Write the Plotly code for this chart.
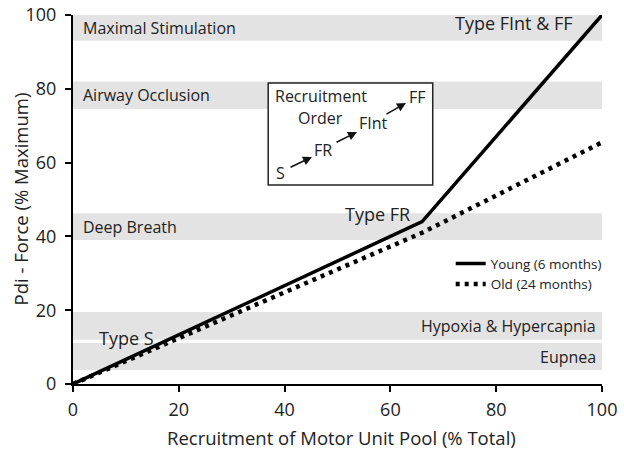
import plotly.graph_objects as go

# Data
young_x = [0, 66, 100]
young_y = [0, 44, 100]
old_x = [0, 66, 100]
old_y = [0, 41, 65.5]

band_names = ["Maximal Stimulation", "Airway Occlusion", "Deep Breath", "Hypoxia & Hypercapnia", "Eupnea"]
band_lo = [93, 74.5, 39, 12, 3.8]
band_hi = [100, 82, 46.3, 19.5, 11.1]
band_label_side = ["left", "left", "left", "right", "right"]

tick_vals = [0, 20, 40, 60, 80, 100]

FONT = "Open Sans"

fig = go.Figure()

fig.add_trace(go.Scatter(x=young_x, y=young_y, mode="lines", name="Young (6 months)",
                         line=dict(color="black", width=3.5), cliponaxis=False))
fig.add_trace(go.Scatter(x=old_x, y=old_y, mode="lines", name="Old (24 months)",
                         line=dict(color="black", width=4.5, dash="4px,5px"), cliponaxis=False))

shapes = []
annotations = []
for name, lo, hi, side in zip(band_names, band_lo, band_hi, band_label_side):
    shapes.append(dict(type="rect", xref="x", yref="y", x0=0, x1=100.5, y0=lo, y1=hi,
                       fillcolor="#e3e3e3", line=dict(width=0), layer="below"))
    ymid = (lo + hi) / 2
    if side == "left":
        annotations.append(dict(x=1.6, y=ymid, xref="x", yref="y", text=name, showarrow=False,
                                xanchor="left", yanchor="middle", font=dict(size=16, family=FONT, color="#222")))
    else:
        annotations.append(dict(x=99.3, y=ymid, xref="x", yref="y", text=name, showarrow=False,
                                xanchor="right", yanchor="middle", font=dict(size=16, family=FONT, color="#222")))

# Inset box
shapes.append(dict(type="rect", xref="x", yref="y", x0=36.9, x1=68.0, y0=53.9, y1=81.6,
                   fillcolor="white", line=dict(color="#222", width=1.5), layer="above"))

def px2x(px):
    return (px - 73) / 5.29

def py2y(py):
    return (384 - py) / 3.69

inset_texts = [("Recruitment", 273, 96, "left"), ("Order", 320, 118, "center"),
               ("S", 280, 173, "center"), ("FR", 323, 150, "center"),
               ("FInt", 373, 123, "center"), ("FF", 417, 97, "center")]
for t, px, py, anc in inset_texts:
    annotations.append(dict(x=px2x(px), y=py2y(py), xref="x", yref="y", text=t, showarrow=False,
                            xanchor=anc, yanchor="middle", font=dict(size=16, family=FONT, color="#222")))

arrows = [((289, 168), (312, 157)), ((335, 143), (357, 132)), ((385, 115), (406, 103))]
for (sx, sy), (ex, ey) in arrows:
    annotations.append(dict(x=px2x(ex), y=py2y(ey), ax=px2x(sx), ay=py2y(sy), xref="x", yref="y",
                            axref="x", ayref="y", text="", showarrow=True, arrowhead=2,
                            arrowsize=1.2, arrowwidth=1.5, arrowcolor="#111"))

type_labels = [("Type S", 4.5, 12.5, "left"), ("Type FR", 51.0, 46.0, "left"),
               ("Type FInt & FF", 94.9, 97.8, "right")]
for t, x, y, anc in type_labels:
    annotations.append(dict(x=x, y=y, xref="x", yref="y", text=t, showarrow=False,
                            xanchor=anc, yanchor="middle", font=dict(size=18, family=FONT, color="#222")))

# axis titles as text annotations
annotations.append(dict(x=-53 / 529, y=0.5, xref="paper", yref="paper", text="Pdi - Force (% Maximum)",
                        showarrow=False, textangle=-90, xanchor="center", yanchor="middle",
                        font=dict(size=18.5, family=FONT, color="#222")))
annotations.append(dict(x=0.5076, y=-0.1463, xref="paper", yref="paper",
                        text="Recruitment of Motor Unit Pool (% Total)",
                        showarrow=False, xanchor="center", yanchor="middle",
                        font=dict(size=18.5, family=FONT, color="#222")))

axis_common = dict(showline=True, linecolor="black", linewidth=2, ticks="outside", ticklen=6,
                   tickwidth=2, tickcolor="black", showgrid=False, zeroline=False, automargin=False,
                   tickvals=tick_vals, tickfont=dict(size=18, family=FONT, color="#222"))

fig.update_layout(
    width=624, height=458,
    margin=dict(l=73, r=22, t=15, b=74, autoexpand=False),
    plot_bgcolor="white", paper_bgcolor="white",
    shapes=shapes, annotations=annotations,
    xaxis=dict(range=[0, 100], ticklabelstandoff=2, **axis_common),
    yaxis=dict(range=[0, 100], ticklabelstandoff=5, **axis_common),
    legend=dict(x=0.714, y=0.368, xanchor="left", yanchor="top", bgcolor="rgba(0,0,0,0)",
                font=dict(size=13.5, family=FONT, color="#222"), tracegroupgap=0, itemwidth=30),
    showlegend=True,
)

fig.write_html("out.html", config={"displayModeBar": False},
               post_script="document.body.style.margin='0';")
